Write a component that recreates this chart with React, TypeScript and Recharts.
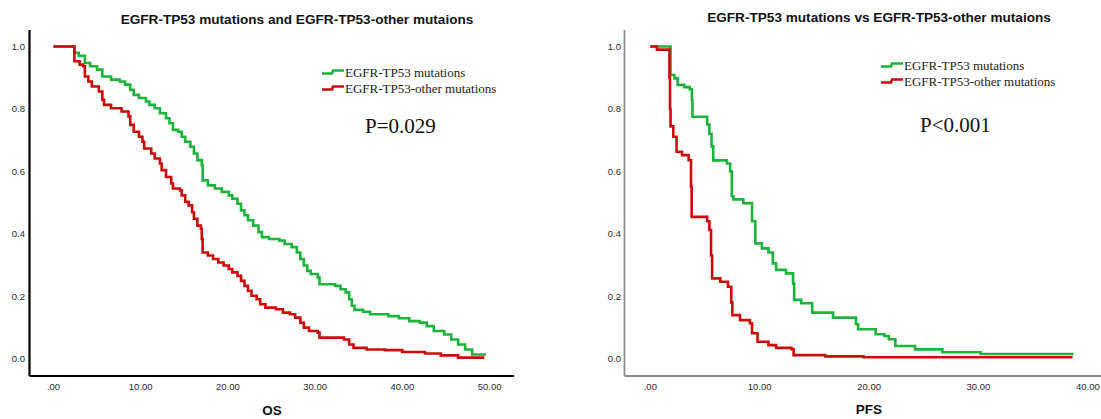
import { Line, LineChart, XAxis, YAxis } from "recharts";

// [time, survival] step points
const osTp53: [number, number][] = [
  [0, 1], [2.4, 0.98], [2.9, 0.97], [3.6, 0.947], [4.2, 0.937], [5.0, 0.926],
  [5.6, 0.904], [6.6, 0.894], [7.6, 0.888], [8.2, 0.878], [8.8, 0.861], [9.2, 0.845],
  [9.8, 0.835], [10.6, 0.824], [11.0, 0.813], [11.6, 0.802], [12.2, 0.786], [12.9, 0.77],
  [13.3, 0.754], [13.7, 0.733], [14.3, 0.727], [14.7, 0.711], [15.1, 0.695], [15.7, 0.679],
  [16.1, 0.657], [16.5, 0.636], [17.0, 0.62], [17.1, 0.571], [17.7, 0.555], [18.5, 0.545],
  [19.3, 0.534], [20.1, 0.523], [20.5, 0.512], [21.1, 0.496], [21.5, 0.475], [21.9, 0.459],
  [22.3, 0.443], [22.9, 0.426], [23.5, 0.405], [23.9, 0.389], [24.7, 0.383], [25.9, 0.378],
  [26.5, 0.367], [27.3, 0.357], [27.9, 0.34], [28.3, 0.319], [28.7, 0.298], [29.1, 0.281],
  [29.5, 0.271], [30.3, 0.26], [30.5, 0.238], [32.3, 0.233], [32.9, 0.222], [33.5, 0.212],
  [33.9, 0.19], [34.2, 0.169], [34.5, 0.156], [35.5, 0.15], [36.3, 0.142], [38.4, 0.136],
  [39.6, 0.129], [40.8, 0.12], [42.0, 0.115], [42.8, 0.104], [43.6, 0.088], [44.8, 0.077],
  [45.6, 0.061], [46.4, 0.045], [47.2, 0.029], [48.0, 0.013], [49.6, 0.013],
];

const osOther: [number, number][] = [
  [0, 1], [2.4, 0.953], [3.0, 0.942], [3.4, 0.937], [3.6, 0.904], [4.0, 0.888],
  [4.4, 0.872], [5.2, 0.856], [5.6, 0.829], [5.8, 0.813], [6.6, 0.802], [7.8, 0.792],
  [8.6, 0.776], [8.8, 0.749], [9.2, 0.727], [9.8, 0.711], [10.2, 0.695], [10.4, 0.673],
  [11.2, 0.657], [11.6, 0.641], [12.2, 0.625], [12.4, 0.604], [12.9, 0.582], [13.5, 0.561],
  [13.7, 0.545], [14.5, 0.539], [14.7, 0.523], [15.1, 0.502], [15.5, 0.491], [15.9, 0.469],
  [16.1, 0.448], [16.5, 0.426], [16.9, 0.416], [17.0, 0.383], [17.1, 0.34], [17.7, 0.33],
  [18.3, 0.319], [18.9, 0.308], [19.5, 0.298], [20.1, 0.287], [20.5, 0.276], [21.1, 0.265],
  [21.5, 0.249], [21.9, 0.233], [22.3, 0.217], [22.7, 0.201], [23.3, 0.19], [23.7, 0.174],
  [24.3, 0.163], [25.5, 0.158], [26.3, 0.147], [27.1, 0.142], [27.7, 0.131], [28.3, 0.115],
  [28.7, 0.099], [29.3, 0.088], [30.3, 0.083], [30.5, 0.067], [33.3, 0.061], [33.9, 0.045],
  [34.4, 0.034], [35.9, 0.029], [38.0, 0.027], [40.0, 0.021], [42.6, 0.016], [44.4, 0.01],
  [46.4, 0.003], [49.4, 0.003],
];

const pfsTp53: [number, number][] = [
  [0, 1], [1.85, 0.909], [2.2, 0.898], [2.5, 0.877], [3.1, 0.87], [3.6, 0.863],
  [3.8, 0.829], [3.85, 0.775], [5.2, 0.75], [5.4, 0.72], [5.6, 0.68], [5.75, 0.635],
  [7.0, 0.625], [7.3, 0.6], [7.45, 0.52], [7.6, 0.51], [8.5, 0.498], [9.3, 0.44],
  [9.6, 0.369], [10.2, 0.353], [10.8, 0.34], [11.2, 0.305], [11.5, 0.284], [12.4, 0.273],
  [13.05, 0.24], [13.15, 0.188], [13.8, 0.177], [14.8, 0.147], [16.7, 0.131], [18.8, 0.11],
  [19.0, 0.094], [20.6, 0.078], [21.4, 0.072], [21.8, 0.062], [22.4, 0.04], [24.2, 0.0295],
  [26.7, 0.02], [30.2, 0.0144], [38.7, 0.0144],
];

const pfsOther: [number, number][] = [
  [0, 1], [0.6, 0.99], [1.75, 0.9], [1.8, 0.8], [1.85, 0.744], [2.1, 0.711],
  [2.4, 0.663], [2.9, 0.652], [3.5, 0.636], [3.72, 0.55], [3.78, 0.454], [5.2, 0.44],
  [5.4, 0.412], [5.55, 0.33], [5.65, 0.257], [6.4, 0.246], [7.1, 0.23], [7.4, 0.18],
  [7.5, 0.139], [8.2, 0.123], [9.1, 0.113], [9.3, 0.081], [9.8, 0.054], [10.8, 0.043],
  [11.5, 0.034], [12.9, 0.03], [13.1, 0.011], [16.0, 0.007], [19.5, 0.004], [38.6, 0.004],
];

const yTicks = [0, 0.2, 0.4, 0.6, 0.8, 1.0];
const osTicks = [0, 10, 20, 30, 40, 50];
const pfsTicks = [0, 10, 20, 30, 40];
const seriesNames = ["EGFR-TP53 mutations", "EGFR-TP53-other mutations"];

const GREEN = "#1db43c";
const RED = "#cc0b0b";

const toRows = (pts: [number, number][]) => pts.map(([t, s]) => ({ t, s }));
const fmtTime = (v: number) => (v === 0 ? ".00" : v.toFixed(2));

const tickStyle = {
  fontFamily: "'Liberation Sans', Arial, sans-serif",
  fontSize: 9.5,
  fill: "#2a2a2a",
};

function KmPanel({
  left,
  yAxisWidth,
  marginRight,
  xDomain,
  xTicks,
  axisColor,
  axisWidth,
  yTickGap,
  green,
  red,
}: {
  left: number;
  yAxisWidth: number;
  marginRight: number;
  xDomain: [number, number];
  xTicks: number[];
  axisColor: string;
  axisWidth: number;
  yTickGap: number;
  green: [number, number][];
  red: [number, number][];
}) {
  return (
    <div style={{ position: "absolute", left, top: 0 }}>
      <LineChart
        width={550}
        height={419}
        margin={{ top: 30, right: marginRight, bottom: 13, left: 0 }}
      >
        <XAxis
          type="number"
          dataKey="t"
          domain={xDomain}
          ticks={xTicks}
          allowDataOverflow
          tickFormatter={fmtTime}
          tick={tickStyle}
          tickLine={false}
          tickSize={0}
          tickMargin={7}
          height={30}
          axisLine={{ stroke: axisColor, strokeWidth: axisWidth }}
        />
        <YAxis
          type="number"
          domain={[-0.056, 1.053]}
          ticks={yTicks}
          allowDataOverflow
          tickFormatter={(v: number) => v.toFixed(1)}
          tick={tickStyle}
          tickLine={false}
          tickSize={0}
          tickMargin={yTickGap}
          width={yAxisWidth}
          axisLine={{ stroke: axisColor, strokeWidth: axisWidth }}
        />
        <Line
          data={toRows(green)}
          dataKey="s"
          type="stepAfter"
          stroke={GREEN}
          strokeWidth={2.6}
          dot={false}
          isAnimationActive={false}
        />
        <Line
          data={toRows(red)}
          dataKey="s"
          type="stepAfter"
          stroke={RED}
          strokeWidth={2.6}
          dot={false}
          isAnimationActive={false}
        />
      </LineChart>
    </div>
  );
}

function Txt({
  x,
  y,
  children,
  style,
  center = true,
}: {
  x: number;
  y: number;
  children: React.ReactNode;
  style?: React.CSSProperties;
  center?: boolean;
}) {
  return (
    <div
      style={{
        position: "absolute",
        left: x,
        top: y,
        transform: center ? "translate(-50%, -50%)" : "translateY(-50%)",
        whiteSpace: "nowrap",
        lineHeight: 1,
        ...style,
      }}
    >
      {children}
    </div>
  );
}

function LegendRow({ x, y, color, label }: { x: number; y: number; color: string; label: string }) {
  return (
    <>
      <svg
        width={22}
        height={10}
        style={{ position: "absolute", left: x, top: y - 5 }}
      >
        <polyline
          points="0,6.5 10,6.5 11,3.5 22,3.5"
          fill="none"
          stroke={color}
          strokeWidth={2.6}
        />
      </svg>
      <Txt x={x + 23.5} y={y} center={false} style={serifStyle}>
        {label}
      </Txt>
    </>
  );
}

const serifStyle: React.CSSProperties = {
  fontFamily: "'Liberation Serif', 'Times New Roman', serif",
  fontSize: 13,
  color: "#222",
};

const titleStyle: React.CSSProperties = {
  fontFamily: "'Liberation Sans', Arial, sans-serif",
  fontWeight: 700,
  fontSize: 13.6,
  color: "#111",
};

export default function App() {
  return (
    <div
      style={{
        position: "absolute",
        left: 0,
        top: 0,
        width: 1101,
        height: 419,
        background: "#fff",
        overflow: "hidden",
      }}
    >
      <KmPanel
        left={0}
        yAxisWidth={29.5}
        marginRight={36}
        xDomain={[-2.75, 52.8]}
        xTicks={osTicks}
        axisColor="#000"
        axisWidth={2.2}
        yTickGap={4.5}
        green={osTp53}
        red={osOther}
      />
      <KmPanel
        left={551}
        yAxisWidth={73.5}
        marginRight={0}
        xDomain={[-2.36, 41.2]}
        xTicks={pfsTicks}
        axisColor="#8c8c8c"
        axisWidth={1.8}
        yTickGap={3.5}
        green={pfsTp53}
        red={pfsOther}
      />

      <Txt x={297} y={20} style={titleStyle}>
        EGFR-TP53 mutations and EGFR-TP53-other mutaions
      </Txt>
      <Txt x={879} y={18} style={titleStyle}>
        EGFR-TP53 mutations vs EGFR-TP53-other mutaions
      </Txt>

      <LegendRow x={321.5} y={72} color={GREEN} label={seriesNames[0]} />
      <LegendRow x={321.5} y={88} color={RED} label={seriesNames[1]} />
      <LegendRow x={880.5} y={64.5} color={GREEN} label={seriesNames[0]} />
      <LegendRow x={880.5} y={81} color={RED} label={seriesNames[1]} />

      <Txt x={365} y={126} center={false} style={{ ...serifStyle, fontSize: 21, color: "#111" }}>
        P=0.029
      </Txt>
      <Txt x={920} y={125} center={false} style={{ ...serifStyle, fontSize: 21, color: "#111" }}>
        P&lt;0.001
      </Txt>

      <Txt x={272} y={411} style={{ ...titleStyle, fontSize: 13.5 }}>
        OS
      </Txt>
      <Txt x={869} y={410} style={{ ...titleStyle, fontSize: 13.5 }}>
        PFS
      </Txt>
    </div>
  );
}
